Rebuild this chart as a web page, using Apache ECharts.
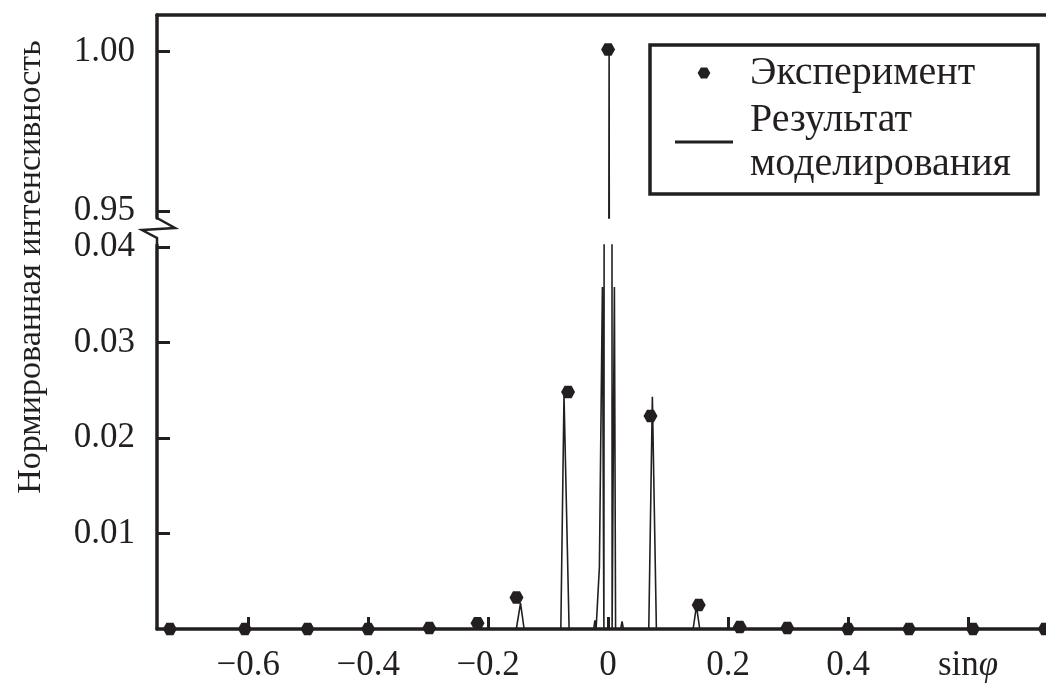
<!DOCTYPE html>
<html><head><meta charset="utf-8">
<script src="https://cdn.jsdelivr.net/npm/echarts@6/dist/echarts.min.js"></script>
<style>html,body{margin:0;padding:0;background:#fff}#c{width:1046px;height:683px}</style>
</head><body><div id="c"></div>
<script>
// ---- data ----
const expX = [-0.7305, -0.6055, -0.501, -0.400, -0.298, -0.2177, -0.1527, -0.0667, 0.0, 0.0707, 0.151, 0.2195, 0.2988, 0.400, 0.5017, 0.6083, 0.728];
const expY = [0, 0, 0, 0, 0.0001, 0.0006, 0.0033, 0.0248, 1.0007, 0.0223, 0.0025, 0.0002, 0.0001, 0, 0, 0, 0];
const simX = [-0.752, -0.153, -0.146, -0.140, -0.0788, -0.0735, -0.065, -0.024, -0.022, -0.020, -0.0175, -0.0145, -0.0095, -0.0070, -0.0055, 0.0017, 0.0067, 0.0085, 0.0105, 0.0125, 0.021, 0.0233, 0.0255, 0.0678, 0.0738, 0.0805, 0.1417, 0.1473, 0.1528, 0.73];
const simY = [0, 0, 0.0027, 0, 0, 0.0245, 0, 0, 0.0009, 0, 0, 0.0065, 0.0358, 0, 0, 1.0007, 0, 0, 0.0358, 0, 0, 0.0008, 0, 0, 0.0243, 0, 0, 0.0024, 0, 0];
const xTicks = [-0.6, -0.4, -0.2, 0, 0.2, 0.4, 0.6];
const xTickLabels = ['−0.6', '−0.4', '−0.2', '0', '0.2', '0.4', '{s|sin}{p|φ}'];
const yTopTicks = [0.95, 1.00];
const yTopLabels = ['0.95', '1.00'];
const yBotTicks = [0.01, 0.02, 0.03, 0.04];
const yBotLabels = ['0.01', '0.02', '0.03', '0.04'];
const xRange = [-0.752, 0.73];
const yTopRange = [0.9478, 1.0115];
const yBotRange = [0, 0.0402];
const expName = 'Эксперимент';
const simName = 'Результат\nмоделирования';
const yTitle = 'Нормированная интенсивность';

// ---- style ----
const INK = '#231f20';
const FONT = '"Liberation Serif", "DejaVu Serif", serif';
const HEX = 'path://M-1,0 L-0.5,-0.866 L0.5,-0.866 L1,0 L0.5,0.866 L-0.5,0.866 Z';
const BAR = 'path://M0,0 H58 V3 H0 Z';

function labelFor(ticks, labels) {
  return function (v) {
    for (let i = 0; i < ticks.length; i++) if (Math.abs(ticks[i] - v) < 1e-9) return labels[i];
    return '';
  };
}

const simData = simX.map((x, i) => [x, simY[i]]);
const expData = expX.map((x, i) => [x, expY[i]]);

const chart = echarts.init(document.getElementById('c'), null, { renderer: 'canvas' });

const option = {
  backgroundColor: '#fff',
  animation: false,
  grid: [
    { left: 157, right: 0, top: 15, height: 203 },
    { left: 157, right: 0, top: 245, bottom: 54 }
  ],
  xAxis: [
    {
      gridIndex: 0, type: 'value', position: 'top', min: xRange[0], max: xRange[1],
      axisLine: { show: true, onZero: false, lineStyle: { color: INK, width: 3.5 } },
      axisTick: { show: false }, axisLabel: { show: false }, splitLine: { show: false }
    },
    {
      gridIndex: 1, type: 'value', position: 'bottom', min: xRange[0], max: xRange[1],
      axisLine: { show: true, onZero: false, lineStyle: { color: INK, width: 3.5 } },
      axisTick: { show: true, inside: true, length: 12, lineStyle: { color: INK, width: 3 }, customValues: xTicks },
      axisLabel: {
        show: true, margin: 19, color: INK, fontFamily: FONT, fontSize: 35,
        customValues: xTicks, formatter: labelFor(xTicks, xTickLabels),
        rich: {
          s: { fontFamily: FONT, fontSize: 35, color: INK },
          p: { fontFamily: FONT, fontSize: 35, color: INK, fontStyle: 'italic' }
        }
      },
      splitLine: { show: false }
    }
  ],
  yAxis: [
    {
      gridIndex: 0, type: 'value', position: 'left', min: yTopRange[0], max: yTopRange[1],
      axisLine: { show: true, onZero: false, lineStyle: { color: INK, width: 3.5 } },
      axisTick: { show: true, inside: true, length: 13, lineStyle: { color: INK, width: 3 }, customValues: yTopTicks },
      axisLabel: { show: true, margin: 22, color: INK, fontFamily: FONT, fontSize: 35, customValues: yTopTicks, formatter: labelFor(yTopTicks, yTopLabels) },
      splitLine: { show: false }
    },
    {
      gridIndex: 1, type: 'value', position: 'left', min: yBotRange[0], max: yBotRange[1],
      axisLine: { show: true, onZero: false, lineStyle: { color: INK, width: 3.5 } },
      axisTick: { show: true, inside: true, length: 13, lineStyle: { color: INK, width: 3 }, customValues: yBotTicks },
      axisLabel: { show: true, margin: 22, color: INK, fontFamily: FONT, fontSize: 35, customValues: yBotTicks, formatter: labelFor(yBotTicks, yBotLabels) },
      splitLine: { show: false }
    }
  ],
  legend: {
    left: 650, top: 45, orient: 'vertical',
    padding: [6, 27, 8, 25], itemGap: 3, itemWidth: 58, itemHeight: 11,
    borderColor: INK, borderWidth: 3.5, backgroundColor: '#fff',
    selectedMode: false,
    textStyle: { fontFamily: FONT, fontSize: 40, color: INK, lineHeight: 44, padding: [0, 0, 0, 12] },
    data: [
      { name: expName, icon: HEX, itemStyle: { color: INK, opacity: 1 } },
      { name: simName, icon: BAR, itemStyle: { color: INK, opacity: 1 }, lineStyle: { width: 0, opacity: 0 } }
    ]
  },
  series: [
    {
      name: simName, type: 'line', xAxisIndex: 1, yAxisIndex: 1, data: simData,
      symbol: 'none', clip: true, lineStyle: { color: INK, width: 1.6 }, itemStyle: { color: INK }, z: 2
    },
    {
      name: simName, type: 'line', xAxisIndex: 0, yAxisIndex: 0, data: simData,
      symbol: 'none', clip: true, lineStyle: { color: INK, width: 1.6 }, itemStyle: { color: INK }, z: 2
    },
    {
      name: expName, type: 'scatter', xAxisIndex: 1, yAxisIndex: 1, data: expData,
      symbol: HEX, symbolSize: [14, 12.5], clip: true, itemStyle: { color: INK, opacity: 1 }, z: 3
    },
    {
      name: expName, type: 'scatter', xAxisIndex: 0, yAxisIndex: 0, data: expData,
      symbol: HEX, symbolSize: [14, 12.5], clip: true, itemStyle: { color: INK, opacity: 1 }, z: 3
    }
  ]
};
chart.setOption(option);

// axis break mark and rotated axis title
const a = chart.convertToPixel({ gridIndex: 0 }, [xRange[0], yTopRange[0]]);
const b = chart.convertToPixel({ gridIndex: 1 }, [xRange[0], yBotRange[1]]);
const x0 = a[0], ya = a[1], yb = b[1];
chart.setOption({
  graphic: [
    {
      type: 'polyline', z: 10, silent: true,
      shape: { points: [[x0, ya], [x0 + 18, ya + 10], [x0 - 15, ya + 12], [x0, ya + 20], [x0, yb]] },
      style: { stroke: INK, lineWidth: 2.5, fill: null }
    },
    {
      type: 'text', x: 31, y: 267, rotation: Math.PI / 2, silent: true,
      style: { text: yTitle, font: '34px ' + FONT, fill: INK, align: 'center', verticalAlign: 'middle' }
    }
  ]
});
</script>
</body></html>
